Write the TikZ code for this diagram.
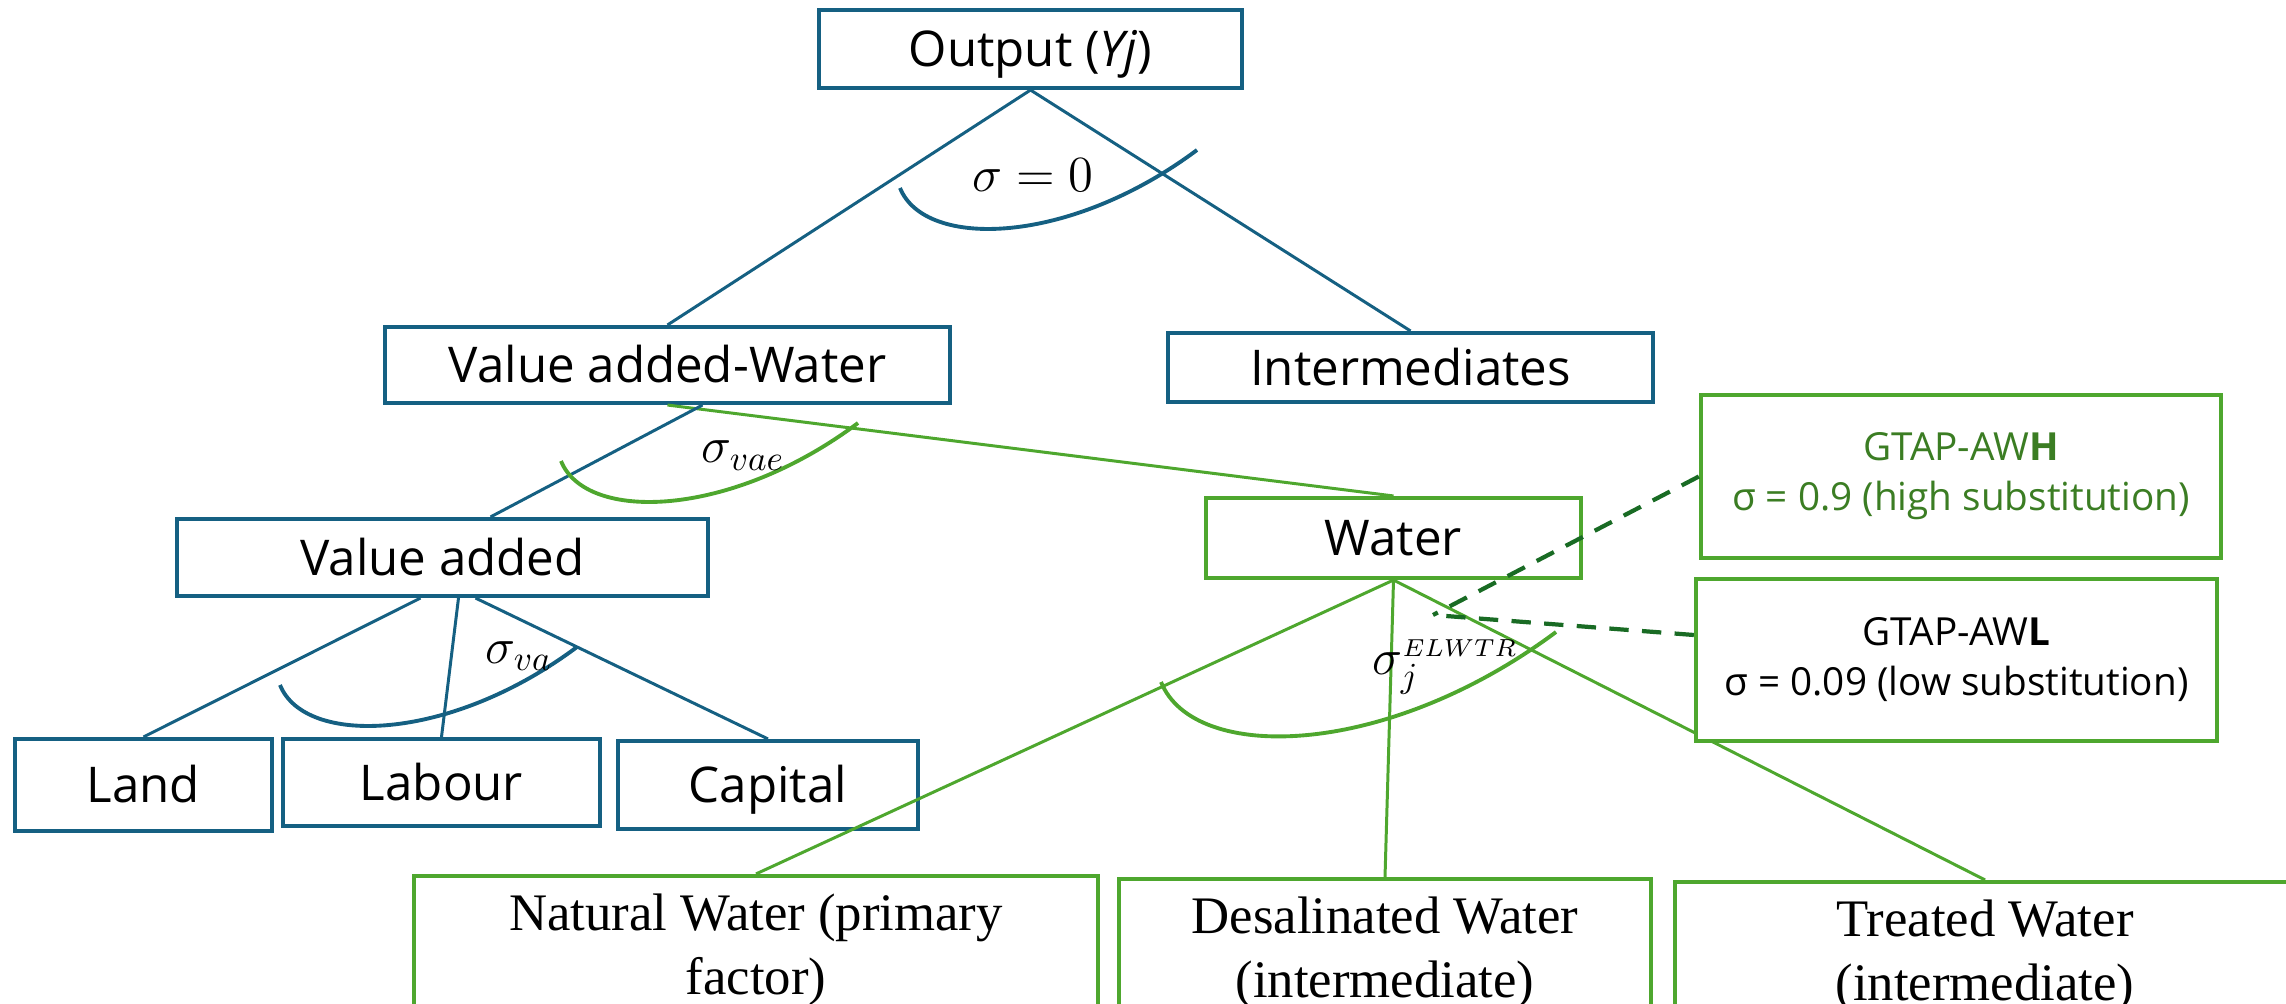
\documentclass[tikz,border=0pt]{standalone}
\usepackage[no-math]{fontspec}
\setmainfont{Open Sans}
\newfontfamily\timesfont{Liberation Serif}
\usetikzlibrary{calc}
\definecolor{cblue}{HTML}{156082}
\definecolor{cgreen}{HTML}{4EA72E}
\definecolor{cdkgreen}{HTML}{196B24}
\definecolor{ctxtgreen}{HTML}{3B7D23}
\tikzset{
  box/.style={draw, line width=1.15pt, fill=white, inner sep=0pt, align=center, font=\fontsize{14}{17}\selectfont},
  single/.style={text height=10pt, text depth=0pt},
  bluebox/.style={box, single, draw=cblue},
  greenbox/.style={box, draw=cgreen},
  serifbox/.style={greenbox, font=\timesfont\fontsize{15}{18.2}\selectfont, minimum height=1.48cm},
  awbox/.style={greenbox, font=\fontsize{11}{14.2}\selectfont},
  blueline/.style={draw=cblue, line width=0.85pt},
  greenline/.style={draw=cgreen, line width=0.85pt},
  bluearc/.style={draw=cblue, line width=1.1pt},
  greenarc/.style={draw=cgreen, line width=1.1pt},
  dashline/.style={draw=cdkgreen, line width=1.2pt, dash pattern=on 5.5pt off 3.8pt},
  sig/.style={inner sep=0pt, font=\fontsize{14.4}{17}\selectfont}
}
\begin{document}
\begin{tikzpicture}[x=0.01cm, y=-0.01cm]
\clip (0,0) rectangle (2286,1004);
% nodes
\node[bluebox, minimum width=4.23cm, minimum height=0.78cm] (out) at (1030.5,49) {Output (\textit{Yj})};
\node[bluebox, minimum width=5.65cm, minimum height=0.76cm] (vaw) at (667.5,365) {Value added-Water};
\node[bluebox, minimum width=4.85cm, minimum height=0.69cm] (inter) at (1410.5,367.5) {Intermediates};
\node[bluebox, minimum width=5.31cm, minimum height=0.77cm] (va) at (442.5,557.5) {Value added};
\node[greenbox, single, minimum width=3.75cm, minimum height=0.80cm] (water) at (1393.5,538) {Water};
\node[bluebox, minimum width=2.57cm, minimum height=0.92cm] (land) at (143.5,785) {Land};
\node[bluebox, minimum width=3.17cm, minimum height=0.87cm] (labour) at (441.5,782.5) {Labour};
\node[bluebox, minimum width=3.00cm, minimum height=0.88cm] (capital) at (768,785) {Capital};
\node[serifbox, minimum width=6.84cm] (natural) at (756,950) {Natural Water (primary\\factor)};
\node[serifbox, minimum width=5.32cm] (desal) at (1385,953) {Desalinated Water\\(intermediate)};
\node[serifbox, minimum width=6.20cm] (treated) at (1985,956) {Treated Water\\(intermediate)};
% connectors
\draw[blueline] (out.south) -- (vaw.north);
\draw[blueline] (out.south) -- (inter.north);
\draw[greenline] (vaw.south) -- (water.north);
\draw[blueline] ($(vaw.south)+(35,0)$) -- ($(va.north)+(48,0)$);
\draw[blueline] ($(va.south)+(-22,0)$) -- (land.north);
\draw[blueline] ($(va.south)+(16,0)$) -- (labour.north);
\draw[blueline] ($(va.south)+(33,0)$) -- (capital.north);
\draw[greenline] (water.south) -- (natural.north);
\draw[greenline] (water.south) -- (desal.north);
\draw[greenline] (water.south) -- (treated.north);
% scenario boxes
\node[awbox, minimum width=5.20cm, minimum height=1.63cm, text=ctxtgreen] (awh) at (1961,476.5) {GTAP-AW\textbf{H}\\σ = 0.9 (high substitution)};
\node[awbox, minimum width=5.21cm, minimum height=1.62cm, text=black] (awl) at (1956.5,660) {GTAP-AW\textbf{L}\\σ = 0.09 (low substitution)};
\coordinate (tip) at (1433,615);
\draw[dashline] (awh.west) -- (tip);
\draw[dashline] ($(awl.west)+(0,-25)$) -- (tip);
% elasticity arcs
\draw[bluearc] (900,188) .. controls (925,250) and (1070,245) .. (1197,150);
\draw[greenarc] (561,461) .. controls (586,523) and (731,518) .. (858,423);
\draw[bluearc] (280,685) .. controls (305,747) and (450,742) .. (577,647);
\draw[greenarc] (1161,682) .. controls (1194,764) and (1387,758) .. (1556,632);
\node[sig, anchor=base] (s0) at (1033,192) {$\sigma = 0$};
\node[sig, anchor=base west] (svae) at (701,463) {$\sigma_{vae}$};
\node[sig, anchor=base west] (sva) at (485,663) {$\sigma_{va}$};
\node[sig, anchor=base west] (selw) at (1372,675) {$\sigma_j^{\scriptscriptstyle ELWTR}$};
\end{tikzpicture}
\end{document}
